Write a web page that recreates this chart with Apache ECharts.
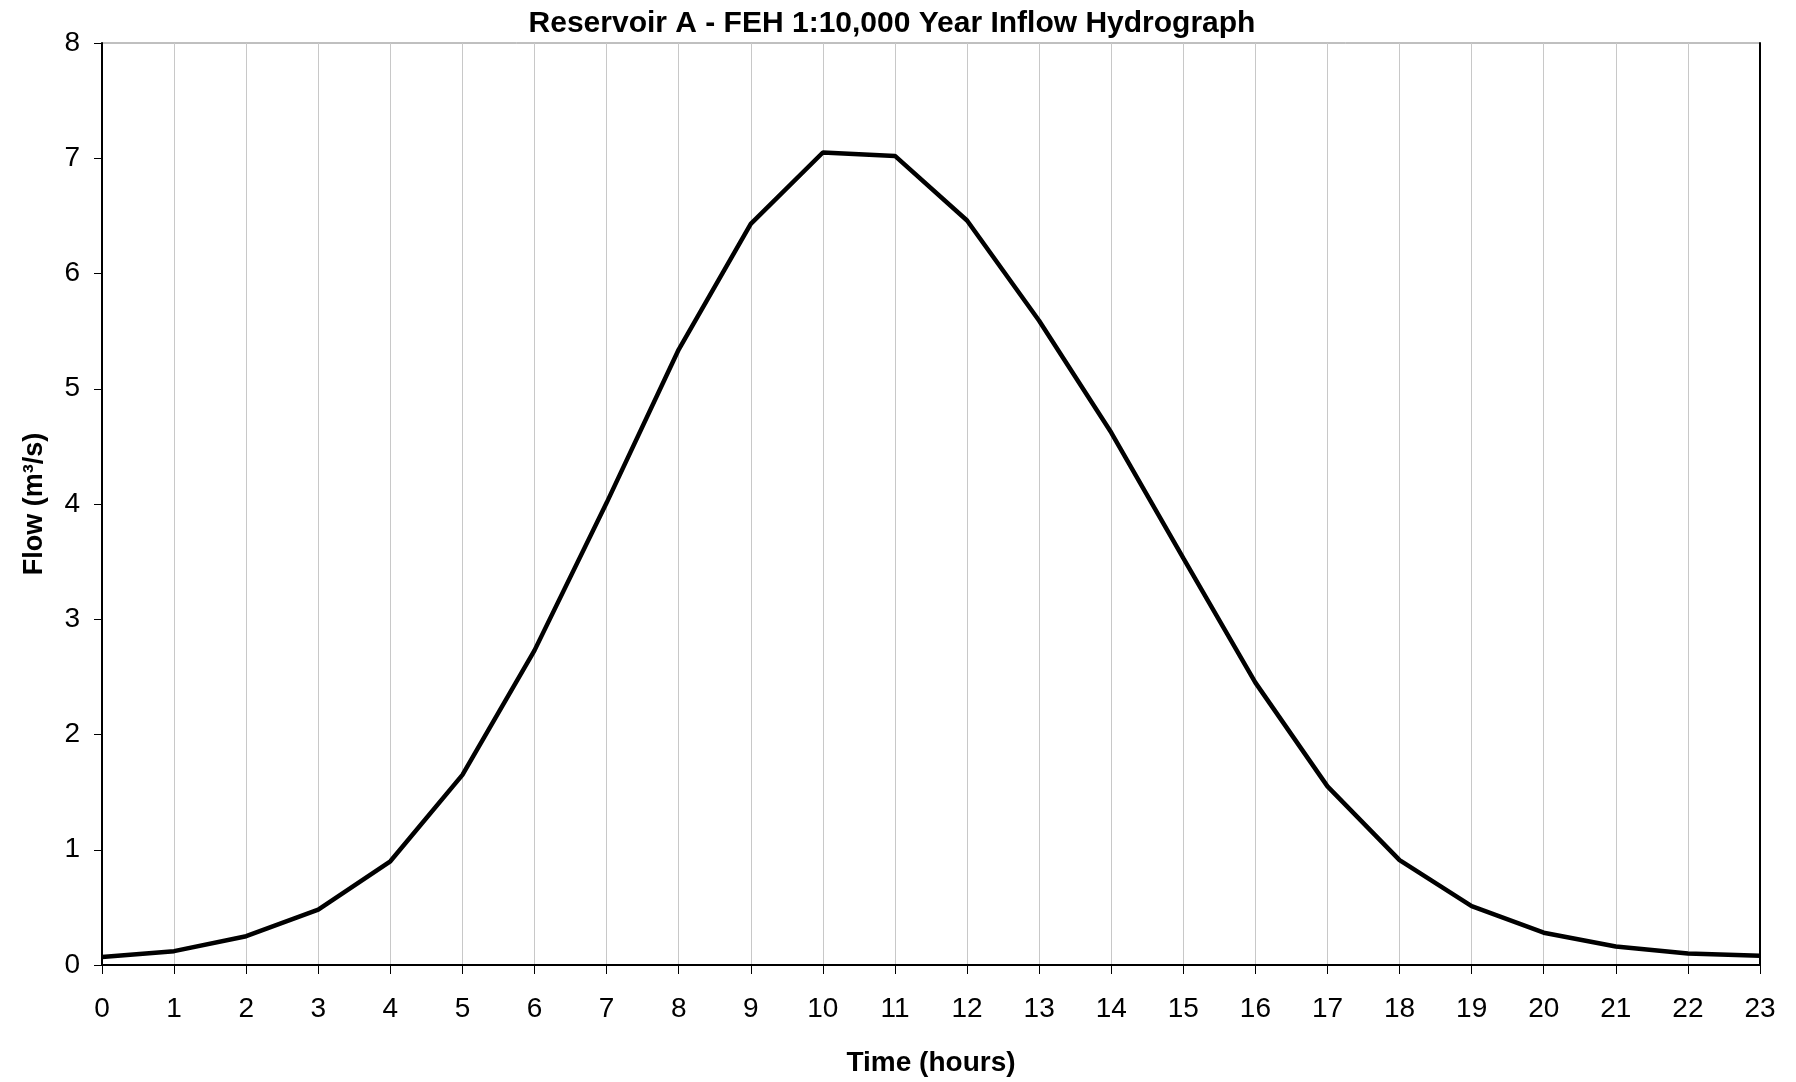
<!DOCTYPE html>
<html>
<head>
<meta charset="utf-8">
<title>Reservoir A Inflow Hydrograph</title>
<script src="https://cdn.jsdelivr.net/npm/echarts@6/dist/echarts.min.js"></script>
<style>
  html, body { margin: 0; padding: 0; background: #fff; }
  #chart { width: 1796px; height: 1082px; }
</style>
</head>
<body>
<div id="chart"></div>
<script>
// hours since start of storm
var hours = ['0', '1', '2', '3', '4', '5', '6', '7', '8', '9', '10', '11',
  '12', '13', '14', '15', '16', '17', '18', '19', '20', '21', '22', '23'];
// inflow, m3/s
var flow = [0.07, 0.12, 0.25, 0.48, 0.90, 1.65, 2.73, 4.01, 5.34, 6.43, 7.05, 7.02,
  6.46, 5.59, 4.62, 3.53, 2.45, 1.55, 0.91, 0.51, 0.28, 0.16, 0.10, 0.08];

var font = 'Liberation Sans, Arial, sans-serif';

var chart = echarts.init(document.getElementById('chart'));

var option = {
  animation: false,
  title: {
    text: 'Reservoir A - FEH 1:10,000 Year Inflow Hydrograph',
    left: 887,
    textAlign: 'center',
    top: 4,
    textStyle: { fontFamily: font, fontSize: 30, fontWeight: 'bold', color: '#000' }
  },
  grid: {
    left: 102,
    right: 36,
    top: 43,
    bottom: 103,
    show: true,
    borderColor: '#808080',
    borderWidth: 1
  },
  xAxis: {
    type: 'category',
    data: hours,
    boundaryGap: false,
    name: 'Time (hours)',
    nameLocation: 'middle',
    nameGap: 84,
    nameTextStyle: { fontFamily: font, fontSize: 28, fontWeight: 'bold', color: '#000' },
    axisLine: { lineStyle: { color: '#000', width: 2 } },
    axisTick: { show: true, inside: false, length: 9, lineStyle: { color: '#000' } },
    axisLabel: { fontFamily: font, fontSize: 28, color: '#000', margin: 30 },
    splitLine: { show: true, lineStyle: { color: '#c8c8c8', width: 1 } }
  },
  yAxis: [
    {
      type: 'value',
      min: 0,
      max: 8,
      interval: 1,
      name: 'Flow (m³/s)',
      nameLocation: 'middle',
      nameGap: 54,
      nameTextStyle: { fontFamily: font, fontSize: 27, fontWeight: 'bold', color: '#000' },
      axisLine: { show: true, lineStyle: { color: '#000', width: 2 } },
      axisTick: { show: true, length: 8, lineStyle: { color: '#000' } },
      axisLabel: { fontFamily: font, fontSize: 28, color: '#000', margin: 22 },
      splitLine: { show: false }
    },
    {
      type: 'value',
      position: 'right',
      min: 0,
      max: 8,
      interval: 1,
      axisLine: { show: true, lineStyle: { color: '#000', width: 2 } },
      axisTick: { show: false },
      axisLabel: { show: false },
      splitLine: { show: false }
    }
  ],
  series: [
    {
      name: 'Flow',
      type: 'line',
      data: flow,
      yAxisIndex: 0,
      symbol: 'none',
      lineStyle: { color: '#000', width: 4.5 },
      z: 5
    }
  ]
};

chart.setOption(option);
</script>
</body>
</html>
